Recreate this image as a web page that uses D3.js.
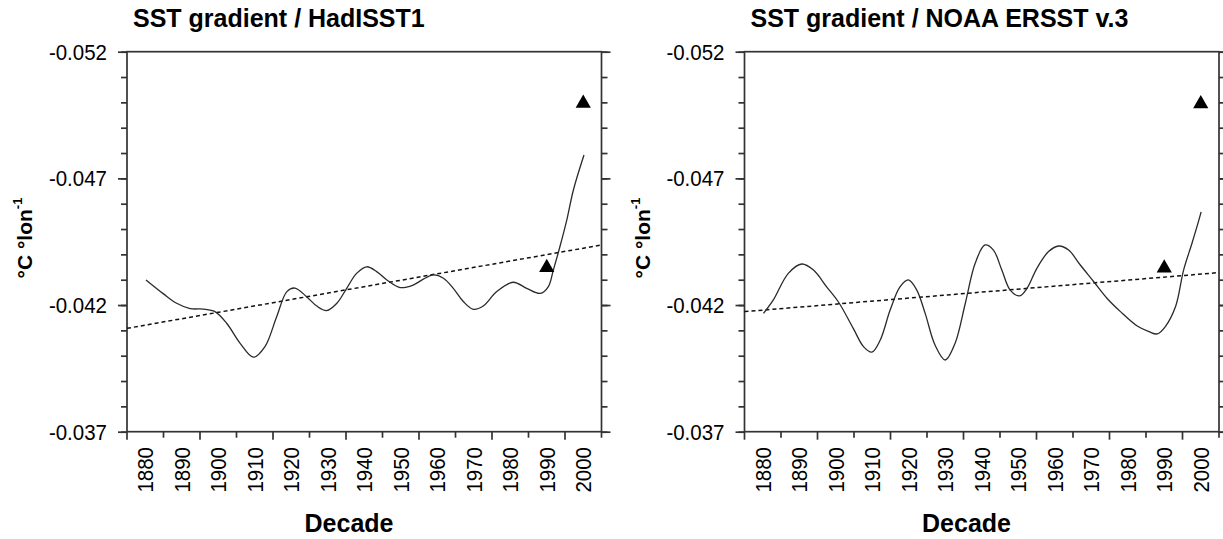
<!DOCTYPE html>
<html>
<head>
<meta charset="utf-8">
<script src="https://cdn.jsdelivr.net/npm/d3@7"></script>
<style>
  html, body { margin: 0; padding: 0; background: #fff; }
  svg { display: block; font-family: "Liberation Sans", Arial, sans-serif; }
</style>
</head>
<body>
<svg id="chart" width="1223" height="539"></svg>
<script>
// Decade labels along the x axis (each label sits in the middle of its decade band)
const decades = [1880, 1890, 1900, 1910, 1920, 1930, 1940, 1950, 1960, 1970, 1980, 1990, 2000];
// Band edges where the x tick marks are drawn
const decadeEdges = [1875, 1885, 1895, 1905, 1915, 1925, 1935, 1945, 1955, 1965, 1975, 1985, 1995, 2005];
// Labelled y ticks and the minor ticks every 0.001
const yMajorTicks = [-0.052, -0.047, -0.042, -0.037];
const yMinorTicks = d3.range(16).map(i => +(-0.052 + i * 0.001).toFixed(3));

// HadISST1 smoothed SST gradient (°C per degree longitude)
const hadYears = [1880.2, 1885, 1888.6, 1892.3, 1895.9, 1899.1, 1902.3, 1906, 1909.6, 1912.8, 1916, 1918.8,
  1921, 1924.2, 1927, 1929.7, 1932.5, 1935.2, 1937.9, 1940.7, 1943.4, 1946.2, 1949.8, 1953.4, 1956.2,
  1958.9, 1961.7, 1964.4, 1967.2, 1969.9, 1972.6, 1976.3, 1980.8, 1984.5, 1988.2, 1990.4, 1991.8,
  1993.6, 1995.5, 1997.3, 2000.2];
const hadValues = [-0.04299, -0.04244, -0.04207, -0.04186, -0.04184, -0.04174, -0.04128, -0.04049, -0.03994,
  -0.04036, -0.04154, -0.04253, -0.04267, -0.04233, -0.04196, -0.04178, -0.04207, -0.04266, -0.04325,
  -0.04351, -0.04332, -0.04299, -0.04269, -0.04279, -0.04302, -0.04319, -0.04306, -0.04266, -0.04213,
  -0.04183, -0.04196, -0.04253, -0.04290, -0.04266, -0.04246, -0.04272, -0.04338, -0.04430, -0.04536,
  -0.04654, -0.04792];

// NOAA ERSST v.3 smoothed SST gradient
const ersstYears = [1880.2, 1882.9, 1887, 1890.7, 1893.9, 1897.5, 1900.7, 1904.8, 1907.6, 1909.9, 1912.2,
  1914.9, 1917.6, 1919.9, 1922.2, 1924.5, 1927.2, 1930, 1932.7, 1935.5, 1938.2, 1940.9, 1943.2, 1945.5,
  1947.8, 1950.4, 1952.4, 1955.1, 1958.3, 1961.1, 1963.8, 1967, 1970.7, 1974.3, 1978, 1982.6, 1985.8,
  1988.1, 1990.3, 1993.1, 1995.3, 1997.6, 1999.5, 2000.1];
const ersstValues = [-0.04167, -0.04220, -0.04325, -0.04362, -0.04338, -0.04272, -0.04213, -0.04108,
  -0.04036, -0.04014, -0.04062, -0.04180, -0.04272, -0.04299, -0.04259, -0.04167, -0.04042, -0.03983,
  -0.04049, -0.04207, -0.04365, -0.04437, -0.04417, -0.04338, -0.04259, -0.04236, -0.04266, -0.04345,
  -0.04411, -0.04433, -0.04417, -0.04358, -0.04292, -0.04227, -0.04174, -0.04117, -0.04095, -0.04086,
  -0.04115, -0.04194, -0.04338, -0.04444, -0.04536, -0.04568];

// Linear trends, given at the two ends of the axis
const trendYears = [1875, 2005];
const hadTrend = [-0.04108, -0.04437];
const ersstTrend = [-0.04174, -0.04328];

// Triangle markers
const markerYears = [1990, 2000];
const hadMarkers = [-0.04348, -0.04996];
const ersstMarkers = [-0.04346, -0.04994];

const panels = [
  { title: "SST gradient / HadISST1", left: 127, years: hadYears, values: hadValues, trend: hadTrend, markers: hadMarkers },
  { title: "SST gradient / NOAA ERSST v.3", left: 744.5, years: ersstYears, values: ersstValues, trend: ersstTrend, markers: ersstMarkers }
];

const svg = d3.select("#chart");
const plotW = 474.5, plotTop = 51.7, plotBottom = 431.7;
const axisColor = "#333";

panels.forEach(p => {
  const g = svg.append("g");
  const x = d3.scaleLinear().domain([1875, 2005]).range([p.left, p.left + plotW]);
  const y = d3.scaleLinear().domain([-0.052, -0.037]).range([plotTop, plotBottom]);
  const right = p.left + plotW;

  // Left axis: minor and major ticks
  const styleAxis = sel => {
    sel.select(".domain").remove();
    sel.selectAll(".tick line").attr("stroke", axisColor).attr("stroke-width", 1.7);
  };
  g.append("g").attr("transform", `translate(${p.left},0)`)
    .call(d3.axisLeft(y).tickValues(yMinorTicks).tickSize(6).tickFormat(""))
    .call(styleAxis);
  g.append("g").attr("transform", `translate(${p.left},0)`)
    .call(d3.axisLeft(y).tickValues(yMajorTicks).tickSize(9).tickFormat(""))
    .call(styleAxis);
  // Right border ticks
  g.append("g").attr("transform", `translate(${right},0)`)
    .call(d3.axisRight(y).tickValues(yMinorTicks).tickSize(6).tickFormat(""))
    .call(styleAxis);
  g.append("g").attr("transform", `translate(${right},0)`)
    .call(d3.axisRight(y).tickValues(yMajorTicks).tickSize(9).tickFormat(""))
    .call(styleAxis);

  // y tick labels
  g.selectAll(".ylab").data(yMajorTicks).join("text")
    .attr("transform", d => `translate(${p.left - 20},${y(d)}) scale(1,1.1)`)
    .attr("dy", "0.35em")
    .attr("text-anchor", "end").attr("font-size", 20.5).attr("fill", "#000")
    .text(d => d3.format(".3f")(d).replace("−", "-"));

  // Bottom axis ticks at decade band edges
  g.selectAll(".xtick").data(decadeEdges).join("line")
    .attr("x1", d => x(d)).attr("x2", d => x(d))
    .attr("y1", plotBottom).attr("y2", (d, i) => plotBottom + (i % 2 === 0 ? 8 : 6))
    .attr("stroke", axisColor).attr("stroke-width", 1.7);

  // Decade labels, rotated
  g.selectAll(".xlab").data(decades).join("text")
    .attr("transform", d => `translate(${x(d)},447) rotate(-90) scale(1,1.1)`)
    .attr("dy", "0.36em").attr("text-anchor", "end")
    .attr("font-size", 20.5).attr("fill", "#000")
    .text(d => d);

  // Frame
  g.append("rect").attr("x", p.left).attr("y", plotTop).attr("width", plotW).attr("height", plotBottom - plotTop)
    .attr("fill", "none").attr("stroke", axisColor).attr("stroke-width", 1.7);

  // Trend line
  g.append("path")
    .datum(trendYears.map((yr, i) => [yr, p.trend[i]]))
    .attr("d", d3.line().x(d => x(d[0])).y(d => y(d[1])))
    .attr("fill", "none").attr("stroke", "#111").attr("stroke-width", 1.5)
    .attr("stroke-dasharray", "4,3");

  // Smoothed gradient curve
  g.append("path")
    .datum(p.years.map((yr, i) => [yr, p.values[i]]))
    .attr("d", d3.line().curve(d3.curveCatmullRom.alpha(0.5)).x(d => x(d[0])).y(d => y(d[1])))
    .attr("fill", "none").attr("stroke", "#2a2a2a").attr("stroke-width", 1.3);

  // Triangle markers
  g.selectAll(".mk").data(markerYears.map((yr, i) => [yr, p.markers[i]])).join("path")
    .attr("transform", d => `translate(${x(d[0])},${y(d[1])})`)
    .attr("d", d3.symbol().type(d3.symbolTriangle).size(100))
    .attr("fill", "#000");

  // Title
  g.append("text").attr("x", p.left + 6).attr("y", 27)
    .attr("font-size", 25).attr("font-weight", "bold").attr("fill", "#000")
    .text(p.title);

  // Axis titles
  g.append("text").attr("x", p.left + 222).attr("y", 532)
    .attr("text-anchor", "middle").attr("font-size", 25).attr("font-weight", "bold").attr("fill", "#000")
    .text("Decade");

  const yl = g.append("text")
    .attr("transform", `translate(${p.left - 95},238) rotate(-90)`)
    .attr("text-anchor", "middle").attr("font-size", 21).attr("font-weight", "bold").attr("fill", "#000");
  yl.append("tspan").text("°C °lon");
  yl.append("tspan").attr("font-size", 13).attr("dy", "-0.75em").text("-1");
});
</script>
</body>
</html>
